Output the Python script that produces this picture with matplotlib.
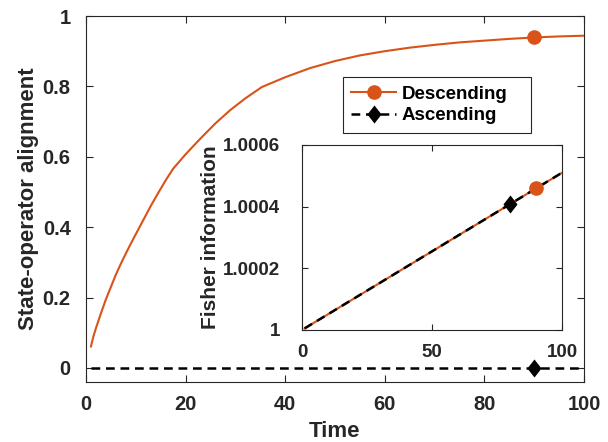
import matplotlib
matplotlib.use("Agg")
import matplotlib.pyplot as plt
from matplotlib.lines import Line2D

# ---- data ----
time_main = [1, 1.5, 2, 3, 4, 5, 6, 7, 8, 9, 10, 11.5, 13, 14.5, 16, 17.5,
             20, 23, 26, 29, 32, 35.3, 40, 45, 50, 55, 60, 65, 70, 75, 80,
             85, 90, 95, 100]
align_desc = [0.061, 0.09, 0.113, 0.155, 0.195, 0.23, 0.265, 0.296, 0.325,
              0.353, 0.38, 0.42, 0.46, 0.497, 0.533, 0.566, 0.607, 0.652,
              0.695, 0.733, 0.766, 0.798, 0.826, 0.852, 0.872, 0.888, 0.90,
              0.91, 0.918, 0.925, 0.93, 0.935, 0.939, 0.942, 0.944]
time_asc = [1, 100]
align_asc = [0.0, 0.0]
marker_time_main = 90

time_inset = [1, 100]
fisher_desc = [1.0000051, 1.00051]
fisher_asc = [1.0000051, 1.00051]
marker_time_desc_inset = 90
marker_time_asc_inset = 80

main_xticks = [0, 20, 40, 60, 80, 100]
main_yticks = [0, 0.2, 0.4, 0.6, 0.8, 1]
main_yticklabels = ["0", "0.2", "0.4", "0.6", "0.8", "1"]
inset_xticks = [0, 50, 100]
inset_yticks = [1, 1.0002, 1.0004, 1.0006]
inset_yticklabels = ["1", "1.0002", "1.0004", "1.0006"]

ORANGE = "#D95319"
DARK = "#262626"
DIAMOND = [(0, 1), (0.78, 0), (0, -1), (-0.78, 0), (0, 1)]

plt.rcParams['font.family'] = ['Liberation Sans', 'DejaVu Sans']
plt.rcParams['font.weight'] = 'bold'

fig = plt.figure(figsize=(6.08, 4.42), dpi=100)
ax = fig.add_axes([0.1414, 0.1357, 0.8191, 0.8281])

lw_o = 1.5
lw_k = 1.8
dash = (3.5, 2.3)
ms_o = 9.5
ms_d = 13

def interp(xs, ys, x):
    for i in range(len(xs) - 1):
        if xs[i] <= x <= xs[i + 1]:
            f = (x - xs[i]) / (xs[i + 1] - xs[i])
            return ys[i] + f * (ys[i + 1] - ys[i])
    return ys[-1]

ax.plot(time_main, align_desc, color=ORANGE, lw=lw_o, zorder=3)
ax.plot([marker_time_main], [interp(time_main, align_desc, marker_time_main)],
        'o', color=ORANGE, ms=ms_o, zorder=4)
ax.plot(time_asc, align_asc, color='black', lw=lw_k, dashes=dash, zorder=3)
ax.plot([marker_time_main], [interp(time_asc, align_asc, marker_time_main)],
        marker=DIAMOND, ls='none', color='black', ms=ms_d, zorder=4,
        markeredgewidth=0)

ax.set_xlim(0, 100)
ax.set_ylim(-0.04, 1)
ax.set_xticks(main_xticks)
ax.set_yticks(main_yticks)
ax.set_yticklabels(main_yticklabels)
ax.tick_params(direction='in', top=True, right=True, labelsize=14.5,
               colors=DARK, length=5, width=0.8)
ax.tick_params(axis='x', pad=9.5)
ax.tick_params(axis='y', pad=11)
for s in ax.spines.values():
    s.set_color(DARK)
    s.set_linewidth(0.8)
ax.set_xlabel("Time", fontsize=16, fontweight='bold', color=DARK, labelpad=5)
ax.set_ylabel("State-operator alignment", fontsize=16, fontweight='bold',
              color=DARK, labelpad=3)

h1 = Line2D([], [], color=ORANGE, lw=lw_o, marker='o', ms=ms_o)
h2 = Line2D([], [], color='black', lw=lw_k, dashes=dash, marker=DIAMOND,
            ms=ms_d, markeredgewidth=0)
leg = ax.legend([h1, h2], ["Descending", "Ascending"], loc='upper left',
                bbox_to_anchor=(0.516, 0.8333, 0.3775, 0.0), mode='expand',
                fontsize=13.5, frameon=True,
                fancybox=False, edgecolor=DARK, framealpha=1,
                handlelength=2.4, handletextpad=0.3, borderpad=0.45,
                labelspacing=0.25, borderaxespad=0)
leg.get_frame().set_linewidth(0.8)
for t in leg.get_texts():
    t.set_fontweight('bold')

# ---- inset ----
ax2 = fig.add_axes([0.4967, 0.2534, 0.4276, 0.4186])
ax2.plot(time_inset, fisher_desc, color=ORANGE, lw=lw_o, zorder=3)
ax2.plot(time_inset, fisher_asc, color='black', lw=lw_k, dashes=dash, zorder=3)
ax2.plot([marker_time_desc_inset],
         [interp(time_inset, fisher_desc, marker_time_desc_inset)],
         'o', color=ORANGE, ms=ms_o, zorder=4)
ax2.plot([marker_time_asc_inset],
         [interp(time_inset, fisher_asc, marker_time_asc_inset)],
         marker=DIAMOND, ls='none', color='black', ms=ms_d, zorder=4,
         markeredgewidth=0)
ax2.set_xlim(0, 100)
ax2.set_ylim(1, 1.0006)
ax2.set_xticks(inset_xticks)
ax2.set_yticks(inset_yticks)
ax2.set_yticklabels(inset_yticklabels)
ax2.tick_params(direction='in', top=True, right=True, labelsize=13.5,
                colors=DARK, length=4, width=0.8)
ax2.tick_params(axis='x', pad=10)
ax2.tick_params(axis='y', pad=16)
for s in ax2.spines.values():
    s.set_color(DARK)
    s.set_linewidth(0.8)
ax2.set_ylabel("Fisher information", fontsize=15, fontweight='bold',
               color=DARK, labelpad=2)

fig.savefig("out.png", dpi=100)
